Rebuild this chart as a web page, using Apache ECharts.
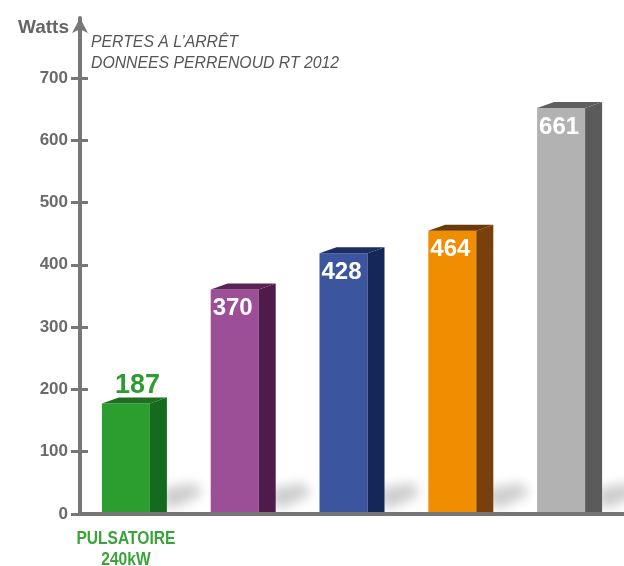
<!DOCTYPE html>
<html><head><meta charset="utf-8">
<script src="https://cdn.jsdelivr.net/npm/echarts@6/dist/echarts.min.js"></script>
<style>html,body{margin:0;padding:0;background:#fff}#c{width:624px;height:566px}</style>
</head><body><div id="c"></div>
<script>
// ---- data ----
const categories = ['PULSATOIRE\n240kW', '', '', '', ''];
const values = [187, 370, 428, 464, 661];
const valueLabels = ['187', '370', '428', '464', '661'];
const yTicks = [0, 100, 200, 300, 400, 500, 600, 700];
const yName = 'Watts';
const titleLines = ['PERTES A L\u2019ARR\u00CAT', 'DONNEES PERRENOUD RT 2012'];

// ---- styles ----
const palette = [
  {front: '#2c9e2f', side: '#166a1d', top: '#1d6f21'},
  {front: '#9c4f97', side: '#4e1b4b', top: '#5a2356'},
  {front: '#3b559e', side: '#132759', top: '#1b2e63'},
  {front: '#f18d00', side: '#7a400c', top: '#6a3a0d'},
  {front: '#b2b2b3', side: '#5b5b5b', top: '#5e5e5e'}
];
const AXIS = '#777777';
const FW = 48, SW = 17, DY = 6;
const YMAX = 796;
const OFF = 3000;

const chart = echarts.init(document.getElementById('c'));

function renderItem(params, api) {
  const i = api.value(0);
  const v = api.value(1);
  const pt = api.coord([i, v]);
  const b = api.coord([i, 0]);
  const cx = pt[0], yb = pt[1], y0 = b[1] - 2;
  const fl = cx - (FW + SW) / 2, fr = fl + FW, sr = fr + SW;
  const yf = yb + DY;
  const p = palette[i];
  const sh = [[sr - 4, y0 - 5], [sr - 4, y0 - 24], [sr + 28, y0 - 29], [sr + 36, y0 - 18], [sr + 10, y0 - 5]]
    .map(q => [q[0] - OFF, q[1]]);
  const children = [
    {type: 'polygon', silent: true, shape: {points: sh},
      style: {fill: '#000', shadowColor: 'rgba(0,0,0,0.2)', shadowBlur: 12, shadowOffsetX: OFF, shadowOffsetY: 0}},
    {type: 'rect', shape: {x: fl, y: yf, width: FW, height: y0 - yf}, style: {fill: p.front}},
    {type: 'polygon', shape: {points: [[fr, yf], [sr, yb], [sr, y0], [fr, y0]]}, style: {fill: p.side}},
    {type: 'polygon', shape: {points: [[fl, yf], [fl + SW, yb], [sr, yb], [fr, yf]]}, style: {fill: p.top}}
  ];
  if (i === 0) {
    children.push({type: 'text', style: {text: valueLabels[i], x: cx + 3, y: yb - 12, align: 'center', verticalAlign: 'middle',
      fill: '#2e9c33', font: 'bold 27px "Liberation Sans", Arial, sans-serif'}});
  } else {
    children.push({type: 'text', style: {text: valueLabels[i], x: fl + FW / 2 - 2, y: yf + 19, align: 'center', verticalAlign: 'middle',
      fill: '#ffffff', font: 'bold 24px "Liberation Sans", Arial, sans-serif'}});
  }
  if (categories[i]) {
    const cxf = fl + FW / 2;
    children.push({type: 'text', x: cxf, y: b[1] + 14, scaleX: 0.82,
      style: {text: categories[i], x: 0, y: 0, align: 'center', verticalAlign: 'top', lineHeight: 21,
        fill: '#3aa43a', font: 'bold 19px "Liberation Sans", Arial, sans-serif'}});
  }
  return {type: 'group', children: children};
}

const option = {
  animation: false,
  backgroundColor: '#ffffff',
  title: {
    text: titleLines.join('\n'),
    left: 91, top: 32, padding: 0,
    textStyle: {fontSize: 15.8, fontStyle: 'italic', fontWeight: 'normal', color: '#555555',
      fontFamily: '"Liberation Sans", Arial, sans-serif', lineHeight: 21}
  },
  grid: {left: 80, right: 0, top: 18, bottom: 52, outerBoundsMode: 'none', containLabel: false},
  xAxis: {
    type: 'category', data: categories,
    axisLine: {show: true, lineStyle: {color: AXIS, width: 4}},
    axisTick: {show: false},
    axisLabel: {show: false}
  },
  yAxis: [{
    type: 'value', min: 0, max: YMAX, interval: 100,
    name: yName, nameLocation: 'end', nameGap: 0,
    nameTextStyle: {align: 'right', verticalAlign: 'top', padding: [0, 11, 0, 0], color: '#666666', fontWeight: 'bold', fontSize: 19,
      fontFamily: '"Liberation Sans", Arial, sans-serif'},
    axisLine: {show: true, lineStyle: {color: AXIS, width: 4}, symbol: ['none', 'arrow'], symbolSize: [12, 15]},
    axisTick: {show: true, length: 9, customValues: yTicks, lineStyle: {color: AXIS, width: 3}},
    axisLabel: {customValues: yTicks, margin: 12, color: '#6a6a6a', fontWeight: 'bold', fontSize: 17,
      fontFamily: '"Liberation Sans", Arial, sans-serif'},
    splitLine: {show: false}
  }, {
    type: 'value', min: 0, max: YMAX, interval: 100, position: 'left', offset: 0,
    axisLine: {show: false},
    axisTick: {show: true, inside: true, length: 8, customValues: yTicks, lineStyle: {color: AXIS, width: 3}},
    axisLabel: {show: false},
    splitLine: {show: false}
  }],
  series: [{
    type: 'custom', renderItem: renderItem, yAxisIndex: 0, clip: false,
    data: values.map((v, i) => [i, v]),
    encode: {x: 0, y: 1}
  }]
};
chart.setOption(option);
</script>
</body></html>
